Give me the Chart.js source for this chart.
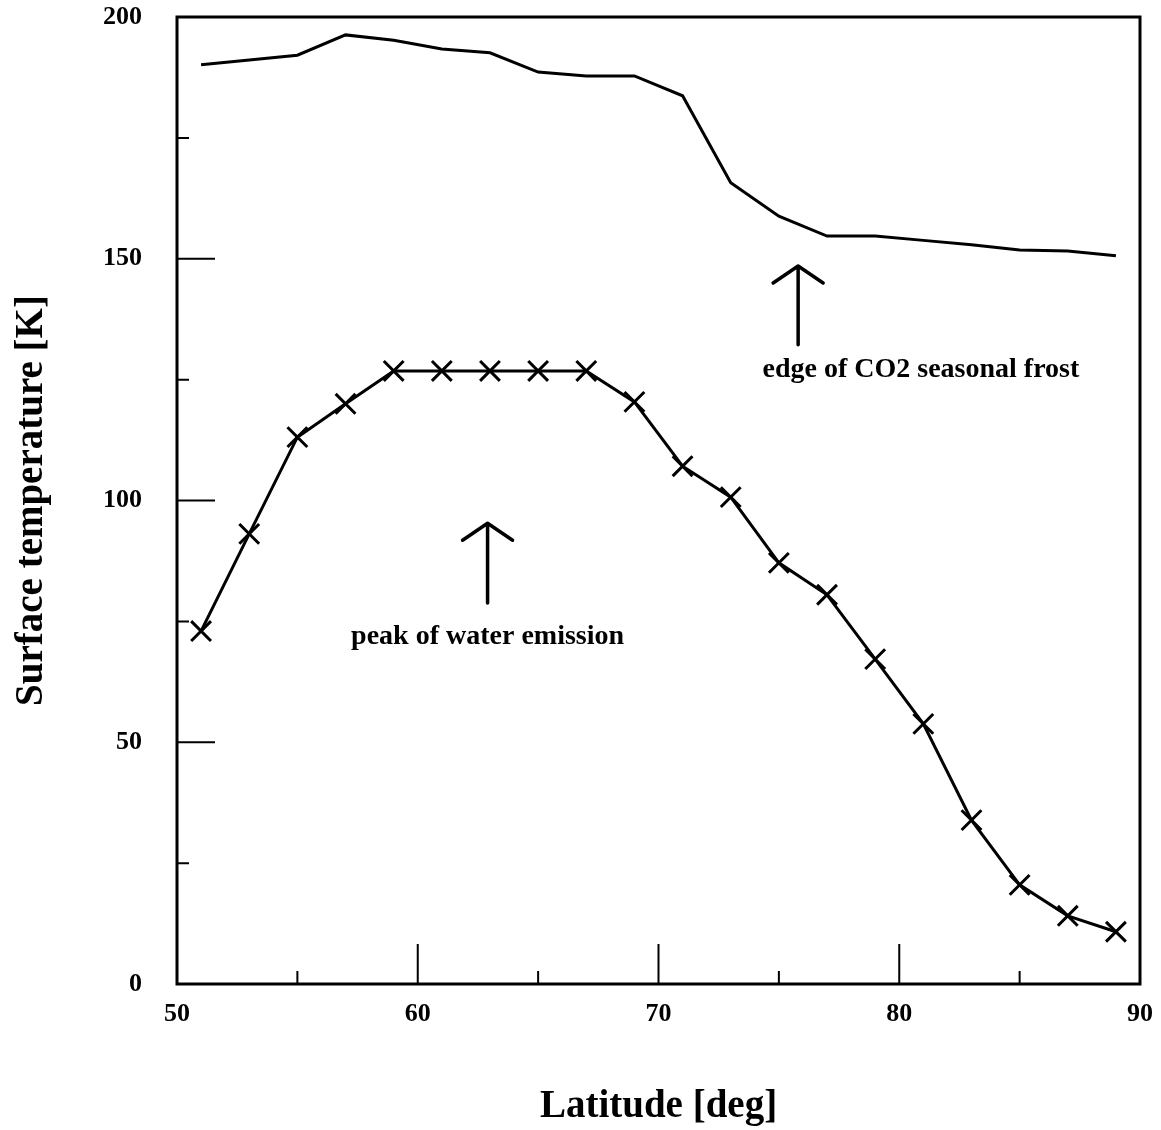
<!DOCTYPE html>
<html>
<head>
<meta charset="utf-8">
<title>Surface temperature vs latitude</title>
<script src="https://cdn.jsdelivr.net/npm/chart.js@4.4.1/dist/chart.umd.min.js"></script>
<style>
  html, body { margin: 0; padding: 0; background: #fff; }
  #wrap { width: 1161px; height: 1130px; }
</style>
</head>
<body>
<div id="wrap"><canvas id="chart"></canvas></div>
<script>
// ── Données ────────────────────────────────────────────────────────────────
const latitudes = [51, 53, 55, 57, 59, 61, 63, 65, 67, 69, 71, 73, 75, 77, 79, 81, 83, 85, 87, 89];

// courbe supérieure (sans marqueurs)
const tempUpper = [190.1, 191.1, 192.1, 196.3, 195.2, 193.4, 192.6, 188.6, 187.8, 187.8,
                   183.7, 165.7, 158.8, 154.7, 154.7, 153.8, 152.9, 151.8, 151.6, 150.6];

// courbe inférieure (croix)
const tempLower = [73.0, 93.1, 113.1, 120.0, 126.8, 126.8, 126.8, 126.8, 126.8, 120.4,
                   107.1, 100.7, 87.1, 80.5, 67.2, 53.8, 33.9, 20.5, 14.1, 10.8];

const xMajorTicks = [60, 70, 80];
const xMinorTicks = [55, 65, 75, 85];
const yMajorTicks = [50, 100, 150];
const yMinorTicks = [25, 75, 125, 175];

const SERIF = '"Liberation Serif", "DejaVu Serif", serif';

// ── Plugin : cadre, graduations intérieures, flèches ───────────────────────
const framePlugin = {
  id: 'frame',
  afterDatasetsDraw(chart) {
    const { ctx, chartArea: a, scales: { x, y } } = chart;
    ctx.save();
    ctx.strokeStyle = '#000';
    ctx.lineCap = 'butt';

    // cadre
    ctx.lineWidth = 3;
    ctx.strokeRect(a.left, a.top, a.right - a.left, a.bottom - a.top);

    // graduations vers l'intérieur
    ctx.lineWidth = 2;
    ctx.beginPath();
    xMajorTicks.forEach(v => { const px = x.getPixelForValue(v); ctx.moveTo(px, a.bottom); ctx.lineTo(px, a.bottom - 40); });
    xMinorTicks.forEach(v => { const px = x.getPixelForValue(v); ctx.moveTo(px, a.bottom); ctx.lineTo(px, a.bottom - 13); });
    yMajorTicks.forEach(v => { const py = y.getPixelForValue(v); ctx.moveTo(a.left, py); ctx.lineTo(a.left + 38, py); });
    yMinorTicks.forEach(v => { const py = y.getPixelForValue(v); ctx.moveTo(a.left, py); ctx.lineTo(a.left + 12, py); });
    ctx.stroke();

    // annotations
    const arrow = (lat, tTop, tBottom) => {
      const px = x.getPixelForValue(lat);
      const top = y.getPixelForValue(tTop);
      const bot = y.getPixelForValue(tBottom);
      ctx.lineWidth = 3.5;
      ctx.lineCap = 'round';
      ctx.lineJoin = 'round';
      ctx.beginPath();
      ctx.moveTo(px, bot); ctx.lineTo(px, top);
      ctx.moveTo(px - 25, top + 17); ctx.lineTo(px, top); ctx.lineTo(px + 25, top + 17);
      ctx.stroke();
    };
    arrow(62.9, 95.3, 78.8);
    arrow(75.8, 148.5, 132.2);

    ctx.fillStyle = '#000';
    ctx.font = 'bold 28px ' + SERIF;
    ctx.textBaseline = 'middle';
    ctx.textAlign = 'center';
    ctx.fillText('peak of water emission', x.getPixelForValue(62.9), y.getPixelForValue(71.8));
    ctx.fillText('edge of CO2 seasonal frost', x.getPixelForValue(80.9), y.getPixelForValue(127));
    ctx.restore();
  }
};

new Chart(document.getElementById('chart'), {
  type: 'scatter',
  data: {
    datasets: [
      {
        label: 'upper',
        data: latitudes.map((lat, i) => ({ x: lat, y: tempUpper[i] })),
        showLine: true,
        borderColor: '#000',
        borderWidth: 3,
        pointRadius: 0,
        tension: 0,
      },
      {
        label: 'lower',
        data: latitudes.map((lat, i) => ({ x: lat, y: tempLower[i] })),
        showLine: true,
        borderColor: '#000',
        backgroundColor: '#000',
        borderWidth: 3,
        pointStyle: 'crossRot',
        pointRadius: 14,
        pointBorderWidth: 3,
        pointBorderColor: '#000',
        tension: 0,
      },
    ],
  },
  options: {
    responsive: true,
    maintainAspectRatio: false,
    animation: false,
    layout: { autoPadding: false, padding: { top: 17, right: 21, left: 0, bottom: 0 } },
    plugins: {
      legend: { display: false },
      tooltip: { enabled: false },
    },
    scales: {
      x: {
        type: 'linear',
        min: 50,
        max: 90,
        afterFit: s => { s.height = 146; s.paddingLeft = 0; s.paddingRight = 0; },
        grid: { display: false, drawTicks: false },
        border: { display: false },
        ticks: {
          stepSize: 10,
          padding: 15,
          color: '#000',
          font: { family: SERIF, size: 26, weight: 'bold' },
        },
        title: {
          display: true,
          text: 'Latitude [deg]',
          color: '#000',
          font: { family: SERIF, size: 39, weight: 'bold' },
          padding: { top: 0, bottom: 0 },
        },
      },
      y: {
        type: 'linear',
        min: 0,
        max: 200,
        afterFit: s => { s.width = 177; s.paddingTop = 0; s.paddingBottom = 0; },
        grid: { display: false, drawTicks: false },
        border: { display: false },
        ticks: {
          stepSize: 50,
          padding: 35,
          color: '#000',
          font: { family: SERIF, size: 26, weight: 'bold' },
        },
        title: {
          display: true,
          text: 'Surface temperature [K]',
          color: '#000',
          font: { family: SERIF, size: 39, weight: 'bold' },
          padding: { top: 9, bottom: 0 },
        },
      },
    },
  },
  plugins: [framePlugin],
});
</script>
</body>
</html>
